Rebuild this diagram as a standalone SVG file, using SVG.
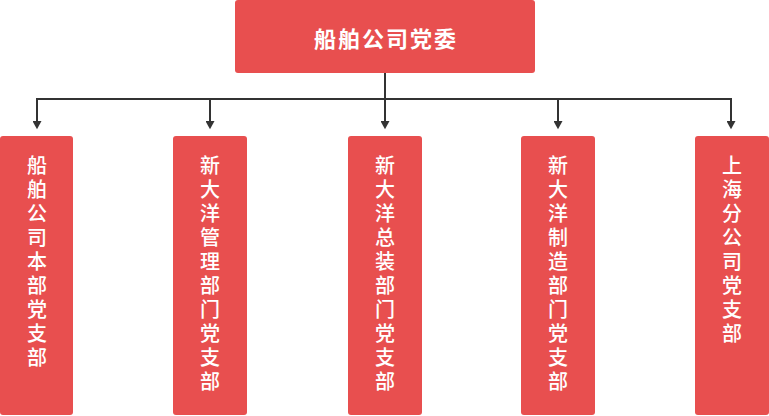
<svg xmlns="http://www.w3.org/2000/svg" width="769" height="416" viewBox="0 0 769 416">
<style>
.box{fill:#E84F4F;}
.top{font-family:"Noto Sans CJK SC","Noto Sans",sans-serif;font-size:22px;font-weight:bold;fill:#fff;letter-spacing:2px;}
.v{font-family:"Noto Sans CJK SC","Noto Sans",sans-serif;font-size:20px;font-weight:500;fill:#fff;writing-mode:vertical-rl;text-orientation:upright;letter-spacing:4px;}
.ln{fill:none;stroke:#333;stroke-width:2;}
.arr{fill:none;stroke:#333;stroke-width:2;marker-end:url(#ah);}
</style>
<defs>
<marker id="ah" markerWidth="10" markerHeight="9" refX="1" refY="5" orient="auto" markerUnits="userSpaceOnUse" viewBox="0 0 9 10">
<path d="M0,0 L9,5 L0,10 Z" fill="#333"/>
</marker>
</defs>
<rect width="769" height="416" fill="#fff"/>
<g id="connectors">
<path class="ln" d="M385,73 V99 M36,99 H732"/>
<path class="arr" d="M37,98 V122"/>
<path class="arr" d="M210,98 V122"/>
<path class="arr" d="M385,98 V122"/>
<path class="arr" d="M558,98 V122"/>
<path class="arr" d="M731,98 V122"/>
</g>
<g id="root">
<rect class="box" x="235" y="0" width="300" height="73" rx="3"/>
<text class="top" x="386" y="37" text-anchor="middle" dominant-baseline="central">船舶公司党委</text>
</g>
<g id="n1">
<rect class="box" x="0" y="136" width="73" height="279" rx="3"/>
<text class="v" x="37" y="155">船舶公司本部党支部</text>
</g>
<g id="n2">
<rect class="box" x="173" y="136" width="74" height="279" rx="3"/>
<text class="v" x="210" y="155">新大洋管理部门党支部</text>
</g>
<g id="n3">
<rect class="box" x="348" y="136" width="74" height="279" rx="3"/>
<text class="v" x="385" y="155">新大洋总装部门党支部</text>
</g>
<g id="n4">
<rect class="box" x="521" y="136" width="74" height="279" rx="3"/>
<text class="v" x="558" y="155">新大洋制造部门党支部</text>
</g>
<g id="n5">
<rect class="box" x="695" y="136" width="74" height="279" rx="3"/>
<text class="v" x="732" y="155">上海分公司党支部</text>
</g>
</svg>
